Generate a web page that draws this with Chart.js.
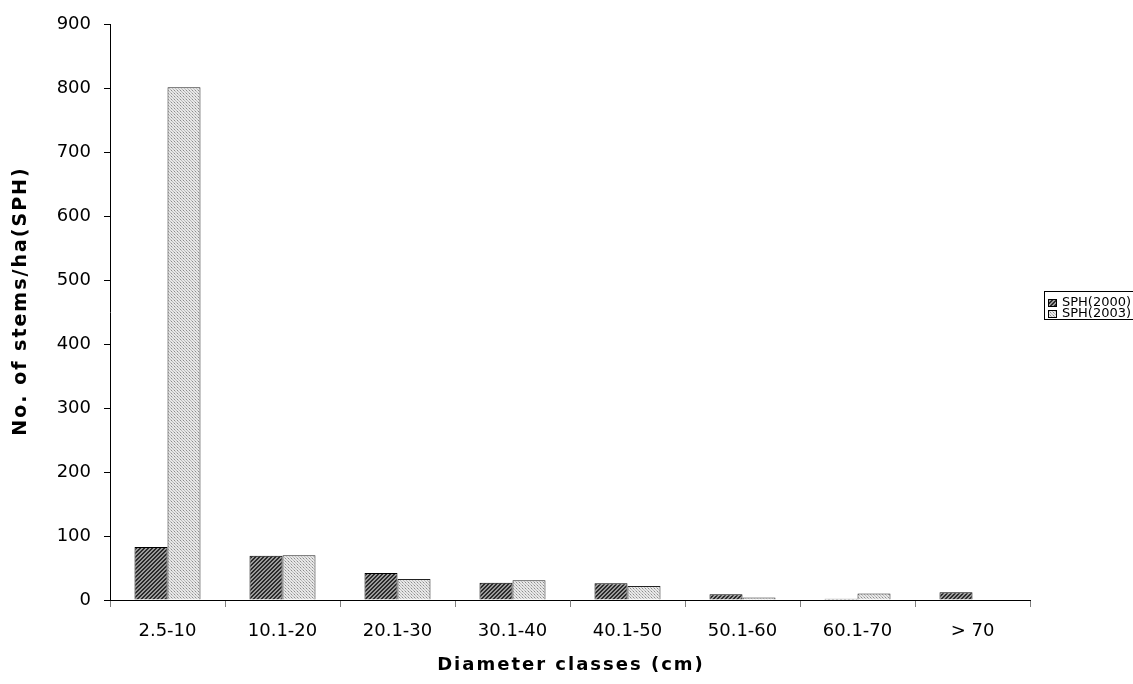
<!DOCTYPE html>
<html>
<head>
<meta charset="utf-8">
<script src="https://cdn.jsdelivr.net/npm/chart.js@4.4.1/dist/chart.umd.min.js"></script>
<style>
  html, body { margin: 0; padding: 0; background: #fff; overflow: hidden; }
  #wrap { width: 1133px; height: 684px; position: relative; }
</style>
</head>
<body>
<div id="wrap"><canvas id="chart"></canvas></div>
<script>
const categories = ['2.5-10', '10.1-20', '20.1-30', '30.1-40', '40.1-50', '50.1-60', '60.1-70', '> 70'];
const sph2000 = [83, 69, 42, 27, 26, 9, 2, 12];
const sph2003 = [801, 70, 33, 31, 22, 4, 10, 0];
const seriesNames = ['SPH(2000)', 'SPH(2003)'];
const yTicks = [0, 100, 200, 300, 400, 500, 600, 700, 800, 900];
const xTitle = 'Diameter classes (cm)';
const yTitle = 'No. of stems/ha(SPH)';

const FONT = '"DejaVu Sans", Arial, sans-serif';

// hatch pattern for the dark series
function hatchPattern() {
    const c = document.createElement('canvas');
    c.width = 4; c.height = 4;
    const g = c.getContext('2d');
    g.fillStyle = '#9a9a9a';
    g.fillRect(0, 0, 4, 4);
    g.fillStyle = '#2a2a2a';
    for (let i = 0; i < 4; i++) {
        g.fillRect(i, 3 - i, 1, 1);
        g.fillRect((i + 1) % 4, 3 - i, 1, 1);
    }
    return g.createPattern(c, 'repeat');
}

// dotted pattern for the light series
function dotPattern() {
    const c = document.createElement('canvas');
    c.width = 3; c.height = 3;
    const g = c.getContext('2d');
    g.fillStyle = '#e8e8e8';
    g.fillRect(0, 0, 3, 3);
    g.fillStyle = '#8c8c8c';
    g.fillRect(0, 0, 1, 1);
    g.fillStyle = '#bababa';
    g.fillRect(1, 1, 1, 1);
    g.fillRect(2, 2, 1, 1);
    return g.createPattern(c, 'repeat');
}

const fills = [hatchPattern(), dotPattern()];

// axis titles with letter spacing + boxed legend on the right
const extras = {
    id: 'extras',
    afterDraw(chart) {
        const ctx = chart.ctx;
        const area = chart.chartArea;
        ctx.save();
        ctx.fillStyle = '#000';
        ctx.textAlign = 'center';
        ctx.textBaseline = 'middle';
        ctx.font = 'bold 18px ' + FONT;
        ctx.letterSpacing = '2px';
        ctx.fillText(xTitle, (area.left + area.right) / 2 + 1, area.bottom + 65);

        ctx.font = 'bold 19px ' + FONT;
        ctx.letterSpacing = '2px';
        ctx.translate(21, (area.top + area.bottom) / 2 - 11);
        ctx.rotate(-Math.PI / 2);
        ctx.fillText(yTitle, 0, 0);
        ctx.restore();

        // legend
        ctx.save();
        const x = area.right + 14;
        const y = 291;
        const rowH = 11;
        ctx.strokeStyle = '#000';
        ctx.lineWidth = 1;
        ctx.strokeRect(x + 0.5, y + 0.5, 110, rowH * 2 + 6);
        ctx.font = '13px ' + FONT;
        ctx.textBaseline = 'middle';
        chart.data.datasets.forEach((ds, i) => {
            const cy = y + 12 + i * rowH;
            ctx.fillStyle = ds.backgroundColor;
            ctx.fillRect(x + 4, cy - 4, 9, 8);
            ctx.strokeStyle = '#000';
            ctx.strokeRect(x + 4.5, cy - 3.5, 8, 7);
            ctx.fillStyle = '#000';
            ctx.fillText(ds.label, x + 18, cy);
        });
        ctx.restore();
    }
};

const ctx = document.getElementById('chart').getContext('2d');
new Chart(ctx, {
    type: 'bar',
    data: {
        labels: categories,
        datasets: [
            { label: seriesNames[0], data: sph2000, backgroundColor: fills[0], borderColor: '#000', borderWidth: 1 },
            { label: seriesNames[1], data: sph2003, backgroundColor: fills[1], borderColor: '#222', borderWidth: 1 }
        ]
    },
    options: {
        responsive: true,
        maintainAspectRatio: false,
        animation: false,
        layout: { padding: { top: 24, right: 103, left: 0, bottom: 0 } },
        datasets: { bar: { categoryPercentage: 0.574, barPercentage: 1 } },
        plugins: {
            legend: { display: false },
            tooltip: { enabled: false }
        },
        scales: {
            x: {
                afterFit: axis => { axis.height = 84; },
                grid: { display: true, drawOnChartArea: false, drawTicks: true, tickLength: 7, color: '#808080', offset: true },
                border: { display: true, color: '#000', width: 1 },
                ticks: { color: '#000', padding: 14, font: { family: FONT, size: 18 }, maxRotation: 0 }
            },
            y: {
                min: 0,
                max: 900,
                afterBuildTicks: axis => { axis.ticks = yTicks.map(v => ({ value: v })); },
                afterFit: axis => { axis.width = 110; },
                grid: { display: true, drawOnChartArea: false, drawTicks: true, tickLength: 6, color: '#000' },
                border: { display: true, color: '#000', width: 1 },
                ticks: { color: '#000', padding: 13, font: { family: FONT, size: 18 } }
            }
        }
    },
    plugins: [extras]
});
</script>
</body>
</html>
